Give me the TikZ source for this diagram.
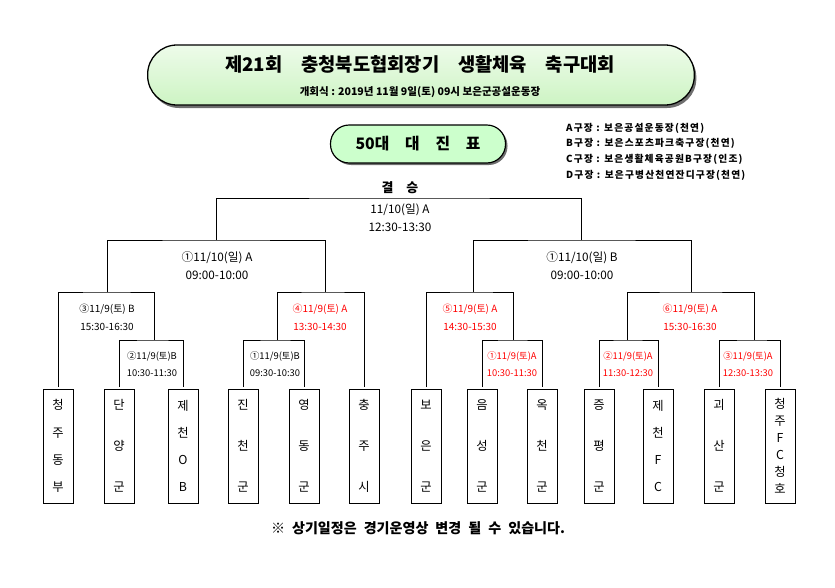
\documentclass[tikz,border=0pt]{standalone}
\usepackage{fontspec}
\setmainfont{Noto Sans CJK KR}
\newfontfamily\fieldfont[LetterSpace=12]{Noto Sans CJK KR}
\usetikzlibrary{positioning}
\definecolor{pillgreen}{RGB}{204,255,204}
\definecolor{titlegreen}{RGB}{205,244,195}
\definecolor{shadowgray}{RGB}{110,110,110}
\definecolor{gamered}{RGB}{255,0,0}
\tikzset{
  titlebox/.style={minimum width=16.4cm,minimum height=1.8cm,rounded corners=0.88cm,inner sep=0pt},
  tablebox/.style={minimum width=5.25cm,minimum height=1.14cm,rounded corners=0.56cm,inner sep=0pt},
  bline/.style={draw=black,line width=0.7pt},
  team/.style={draw=black,line width=0.8pt,minimum width=0.9cm,minimum height=3.42cm,inner sep=0pt,outer sep=1.5pt,align=center,font=\fontsize{10.5}{#1}\selectfont},
  semilbl/.style={align=center,inner sep=0pt,font=\fontsize{10}{15.5}\selectfont},
  rndlbl/.style={align=center,inner sep=0pt,font=\fontsize{8.5}{15.5}\selectfont},
  sublbl/.style={align=center,inner sep=0pt,font=\fontsize{8}{14}\selectfont},
  redlbl/.style={text=gamered},
  field/.style={anchor=west,inner sep=0pt,font=\fieldfont\bfseries\fontsize{8.3}{9}\selectfont}
}

\begin{document}
\begin{tikzpicture}[x=0.03cm,y=-0.03cm]
\useasboundingbox (0,0) rectangle (835,588);
% title
\node[titlebox,fill=shadowgray] (titleshd) at (423,78) {};
\node[titlebox,draw=black,line width=1.1pt,top color=titlegreen!35,bottom color=titlegreen] (titlebg) at (421,75) {};
\node[font=\bfseries\fontsize{16}{19}\selectfont] (ttl) at (420,64) {제21회\quad 충청북도협회장기\quad 생활체육\quad 축구대회};
\node[font=\bfseries\fontsize{9}{11}\selectfont] (opening) at (420,92) {개회식 : 2019년 11월 9일(토) 09시 보은군공설운동장};
\node[tablebox,fill=shadowgray] (tableshd) at (420,146) {};
\node[tablebox,draw=black,line width=1pt,fill=pillgreen,font=\bfseries\fontsize{13.5}{16}\selectfont] (tabletitle) at (418,144) {50대\quad 대\quad 진\quad 표};
\node[field] (fa) at (566,128) {A구장 : 보은공설운동장(천연)};
\node[field] (fb) at (566,143) {B구장 : 보은스포츠파크축구장(천연)};
\node[field] (fc) at (566,159) {C구장 : 보은생활체육공원B구장(인조)};
\node[field] (fd) at (566,175) {D구장 : 보은구병산천연잔디구장(천연)};

% teams
\node[team=23.2pt] (t1) at (58,446) {청\\주\\동\\부};
\node[team=35pt] (t2) at (119,446) {단\\양\\군};
\node[team=23.2pt] (t3) at (183,446) {제\\천\\O\\B};
\node[team=35pt] (t4) at (243,446) {진\\천\\군};
\node[team=35pt] (t5) at (304,446) {영\\동\\군};
\node[team=35pt] (t6) at (364,446) {충\\주\\시};
\node[team=35pt] (t7) at (426,446) {보\\은\\군};
\node[team=35pt] (t8) at (482,446) {음\\성\\군};
\node[team=35pt] (t9) at (542,446) {옥\\천\\군};
\node[team=35pt] (t10) at (599,446) {증\\평\\군};
\node[team=23.2pt] (t11) at (658,446) {제\\천\\F\\C};
\node[team=35pt] (t12) at (719,446) {괴\\산\\군};
\node[team=14.5pt] (t13) at (780,446) {청\\주\\F\\C\\청\\호};

% bracket joints
\coordinate (fin) at (400,198);
\coordinate (s1) at (216,240);
\coordinate (s2) at (581,240);
\coordinate (m3) at (107,292);
\coordinate (m4) at (325,292);
\coordinate (m5) at (473,292);
\coordinate (m6) at (691,292);
\coordinate (l2) at (154,340);
\coordinate (l1) at (277,340);
\coordinate (r1) at (513,340);
\coordinate (r2) at (627,340);
\coordinate (r3) at (754,340);

\draw[bline] (t2.north) |- (l2) -| (t3.north);
\draw[bline] (t4.north) |- (l1) -| (t5.north);
\draw[bline] (t8.north) |- (r1) -| (t9.north);
\draw[bline] (t10.north) |- (r2) -| (t11.north);
\draw[bline] (t12.north) |- (r3) -| (t13.north);
\draw[bline] (t1.north) |- (m3) -| (l2);
\draw[bline] (l1) |- (m4) -| (t6.north);
\draw[bline] (t7.north) |- (m5) -| (r1);
\draw[bline] (r2) |- (m6) -| (r3);
\draw[bline] (m3) |- (s1) -| (m4);
\draw[bline] (m5) |- (s2) -| (m6);
\draw[bline] (s1) |- (fin) -| (s2);

% match labels
\node[font=\bfseries\fontsize{11}{13}\selectfont] (finhead) at (400,188) {결\quad 승};
\node[semilbl] (finlbl) at (400,218) {11/10(일) A\\12:30-13:30};
\node[semilbl] (s1lbl) at (217,266) {①11/10(일) A\\09:00-10:00};
\node[semilbl] (s2lbl) at (582,266) {①11/10(일) B\\09:00-10:00};
\node[rndlbl] (m3lbl) at (107,317) {③11/9(토) B\\15:30-16:30};
\node[rndlbl,redlbl] (m4lbl) at (320,317) {④11/9(토) A\\13:30-14:30};
\node[rndlbl,redlbl] (m5lbl) at (470,317) {⑤11/9(토) A\\14:30-15:30};
\node[rndlbl,redlbl] (m6lbl) at (690,317) {⑥11/9(토) A\\15:30-16:30};
\node[sublbl] (l2lbl) at (152,364) {②11/9(토)B\\10:30-11:30};
\node[sublbl] (l1lbl) at (275,364) {①11/9(토)B\\09:30-10:30};
\node[sublbl,redlbl] (r1lbl) at (512,364) {①11/9(토)A\\10:30-11:30};
\node[sublbl,redlbl] (r2lbl) at (628,364) {②11/9(토)A\\11:30-12:30};
\node[sublbl,redlbl] (r3lbl) at (748,364) {③11/9(토)A\\12:30-13:30};

\node[font=\bfseries\fontsize{12}{14}\selectfont] (note) at (418,528) {※\enspace 상기일정은\enspace 경기운영상\enspace 변경\enspace 될\enspace 수\enspace 있습니다.};
\end{tikzpicture}
\end{document}
